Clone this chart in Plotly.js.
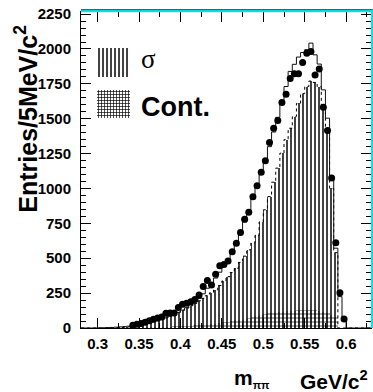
<!DOCTYPE html>
<html>
<head>
<meta charset="utf-8">
<script src="https://cdn.plot.ly/plotly-3.0.1.min.js"></script>
<style>html,body{margin:0;padding:0;background:#fff;}#chart{width:373px;height:392px;}</style>
</head>
<body>
<div id="chart"></div>
<script>
// m(pi pi) bin centres, GeV/c^2 (5 MeV bins)
const massBinCenters = [0.2825,0.2875,0.2925,0.2975,0.3025,0.3075,0.3125,0.3175,0.3225,0.3275,
  0.3325,0.3375,0.3425,0.3475,0.3525,0.3575,0.3625,0.3675,0.3725,0.3775,
  0.3825,0.3875,0.3925,0.3975,0.4025,0.4075,0.4125,0.4175,0.4225,0.4275,
  0.4325,0.4375,0.4425,0.4475,0.4525,0.4575,0.4625,0.4675,0.4725,0.4775,
  0.4825,0.4875,0.4925,0.4975,0.5025,0.5075,0.5125,0.5175,0.5225,0.5275,
  0.5325,0.5375,0.5425,0.5475,0.5525,0.5575,0.5625,0.5675,0.5725,0.5775,
  0.5825,0.5875,0.5925,0.5975,0.6025,0.6075,0.6125,0.6175,0.6225,0.6275];
const binWidth = 0.005;

// data points (entries per bin)
const dataCounts = [null,null,null,null,null,null,null,null,null,null,
  null,null,20,26,33,42,52,62,72,79,
  105,108,108,147,170,177,189,204,237,298,
  340,308,386,446,455,480,547,608,684,780,
  830,940,1019,1117,1199,1329,1432,1487,1616,1676,
  1788,1822,1822,1903,1970,1982,1813,1856,1583,1415,
  1076,611,253,64,null,null,null,null,null,null];

// total fit histogram
const fitTotal = [0,0,0,0,1,2,3,4,6,8,
  10,13,16,20,25,31,37,44,52,61,
  72,84,97,112,128,146,166,188,212,245,
  285,318,358,400,440,485,545,610,680,760,
  840,925,1010,1100,1195,1300,1405,1510,1630,1731,
  1839,1890,1942,1975,1995,2042,1958,1892,1707,1504,
  1085,572,225,57,0,0,0,0,0,0];

// sigma component
const sigmaComp = [0,0,0,0,0,0,1,2,3,4,
  6,8,11,14,20,27,36,46,57,68,
  79,90,101,114,128,143,160,177,195,213,
  232,252,273,305,337,368,398,428,470,515,
  560,610,665,760,847,942,1045,1146,1253,1350,
  1432,1516,1610,1680,1731,1770,1760,1730,1600,1400,
  1000,540,0,0,0,0,0,0,0,0];

// continuum component
const contComp = [0,0,0,0,1,2,2,3,3,4,
  4,5,5,6,6,7,7,8,8,9,
  10,10,11,12,13,15,16,18,20,22,
  25,28,32,36,40,45,50,55,60,65,
  70,77,84,91,98,105,110,114,118,120,
  122,124,126,127,128,129,128,125,117,108,
  95,80,0,0,0,0,0,0,0,0];

const xTickVals = [0.3,0.35,0.4,0.45,0.5,0.55,0.6];
const xTickText = ['0.3','0.35','0.4','0.45','0.5','0.55','0.6'];
const yTickVals = [0,250,500,750,1000,1250,1500,1750,2000,2250];
const yTickText = ['0','250','500','750','1000','1250','1500','1750','2000','2250'];

const legendLabels = ['σ','Cont.'];

// step-line helper: bin edges + repeated last value
function stepXY(vals){
  const xs = massBinCenters.map(c => c - binWidth/2);
  xs.push(massBinCenters[massBinCenters.length-1] + binWidth/2);
  const ys = vals.slice(); ys.push(vals[vals.length-1]);
  return {x: xs, y: ys};
}

const FONT = 'Liberation Sans, Arial, Helvetica, sans-serif';
const totStep = stepXY(fitTotal);
const sigStep = stepXY(sigmaComp);

const traces = [
  {type:'bar', x: massBinCenters, y: sigmaComp, width: binWidth,
   marker:{color:'#000', line:{width:0}, pattern:{shape:'|', size:4, solidity:0.4, fgcolor:'#111'}},
   hoverinfo:'skip', showlegend:false},
  {type:'bar', x: massBinCenters, y: contComp, width: binWidth,
   marker:{color:'#000', line:{width:0}, pattern:{shape:'+', size:4, solidity:0.3, fgcolor:'#000'}},
   hoverinfo:'skip', showlegend:false},
  {type:'scatter', mode:'lines', x: sigStep.x, y: sigStep.y,
   line:{shape:'hv', color:'#000', width:1, dash:'dot'}, hoverinfo:'skip', showlegend:false},
  {type:'scatter', mode:'lines', x: totStep.x, y: totStep.y,
   line:{shape:'hv', color:'#111', width:1}, hoverinfo:'skip', showlegend:false},
  {type:'scatter', mode:'markers', x: massBinCenters, y: dataCounts,
   marker:{color:'#000', size:7, symbol:'circle'}, showlegend:false},
  // legend swatches
  {type:'bar', x:[0.5], y:[29], base:[41], width:[1], xaxis:'x2', yaxis:'y2',
   marker:{color:'#000', line:{width:0}, pattern:{shape:'|', size:4, solidity:0.4, fgcolor:'#111'}},
   hoverinfo:'skip', showlegend:false},
  {type:'bar', x:[0.5], y:[28], base:[0], width:[1], xaxis:'x2', yaxis:'y2',
   marker:{color:'#000', line:{width:0}, pattern:{shape:'+', size:3, solidity:0.4, fgcolor:'#000'}},
   hoverinfo:'skip', showlegend:false}
];

const tickFont = {family: FONT, size: 15, color:'#000', weight:'bold'};

const layout = {
  width: 373, height: 392,
  margin: {l:81, r:2, t:12, b:64, pad:0},
  paper_bgcolor:'#fff', plot_bgcolor:'#fff',
  barmode:'overlay', bargap:0,
  showlegend:false,
  xaxis: {range:[0.28,0.63], tickmode:'array', tickvals:xTickVals, ticktext:xTickText,
    ticks:'inside', ticklen:10, tickwidth:1, tickcolor:'#000',
    showline:true, linecolor:'#000', linewidth:1, mirror:'ticks',
    showgrid:false, zeroline:false, tickfont: tickFont, ticklabelstandoff:2,
    minor:{ticks:'inside', ticklen:5, tickmode:'linear', tick0:0.3, dtick:0.025, tickcolor:'#000', showgrid:false}},
  yaxis: {range:[0,2265], tickmode:'array', tickvals:yTickVals, ticktext:yTickText,
    ticks:'inside', ticklen:10, tickwidth:1, tickcolor:'#000',
    showline:true, linecolor:'#000', linewidth:1, mirror:'ticks',
    showgrid:false, zeroline:false, tickfont: tickFont, ticklabelstandoff:6,
    minor:{ticks:'inside', ticklen:5, tickmode:'linear', tick0:0, dtick:50, tickcolor:'#000', showgrid:false}},
  xaxis2: {domain:[0.0552,0.169], range:[0,1], visible:false, anchor:'y2', fixedrange:true},
  yaxis2: {domain:[0.6646,0.8861], range:[0,70], visible:false, anchor:'x2', fixedrange:true},
  shapes: [
    {type:'rect', xref:'paper', yref:'paper', x0:0, x1:1.0069, y0:0.999, y1:1.0075,
     fillcolor:'rgb(0,230,240)', line:{width:0}, layer:'above'},
    {type:'line', xref:'paper', yref:'paper', x0:0, x1:1.0069, y0:1.0075, y1:1.0075,
     line:{color:'#444', width:1}, layer:'above'},
    {type:'rect', xref:'paper', yref:'paper', x0:1.0, x1:1.0069, y0:0, y1:1.0075,
     fillcolor:'rgb(0,230,240)', line:{width:0}, layer:'above'}
  ],
  annotations: [
    {text: legendLabels[0], xref:'paper', yref:'paper', x:0.2, y:0.851, xanchor:'left', yanchor:'middle',
     showarrow:false, font:{family:'Liberation Serif, DejaVu Serif, serif', size:27, color:'#000'}},
    {text: legendLabels[1], xref:'paper', yref:'paper', x:0.2, y:0.698, xanchor:'left', yanchor:'middle',
     showarrow:false, font:{family: FONT, size:27, color:'#000', weight:'bold'}},
    {text: 'Entries/5MeV/c<sup>2</sup>', xref:'paper', yref:'paper', x:-0.19, y:0.662,
     xanchor:'center', yanchor:'middle', textangle:-90, showarrow:false,
     font:{family: FONT, size:25, color:'#000', weight:'bold'}},
    {text: 'm<sub><span style="font-size:11px">ππ</span></sub>', xref:'paper', yref:'paper', x:0.5207, y:-0.161, xanchor:'left', yanchor:'middle',
     showarrow:false, font:{family: FONT, size:21, color:'#000', weight:'bold'}},
    {text: 'GeV/c<sup>2</sup>', xref:'paper', yref:'paper', x:0.7483, y:-0.165, xanchor:'left', yanchor:'middle',
     showarrow:false, font:{family: FONT, size:21, color:'#000', weight:'bold'}}
  ]
};

Plotly.newPlot('chart', traces, layout, {displayModeBar:false, staticPlot:true});
</script>
</body>
</html>
